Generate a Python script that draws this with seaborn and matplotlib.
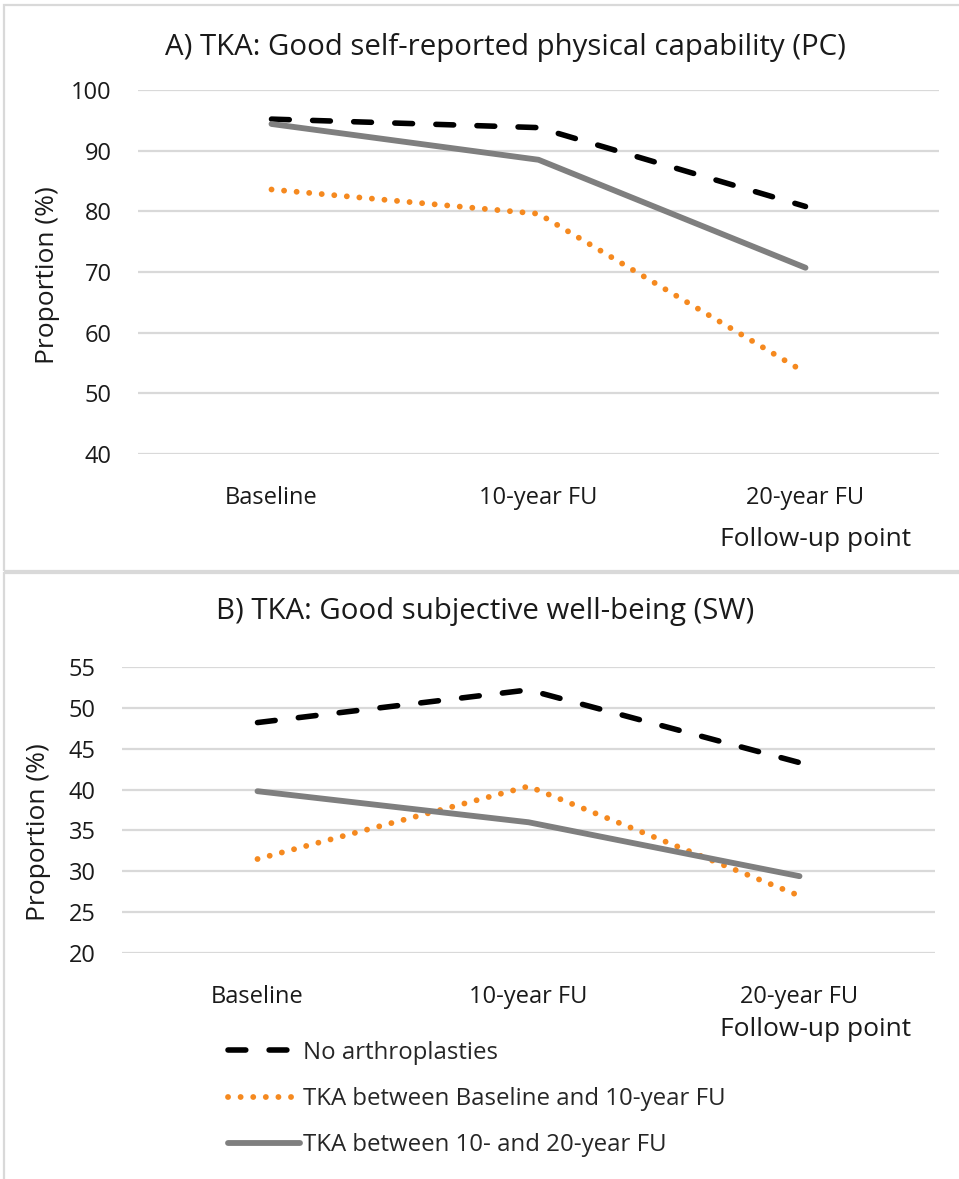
import numpy as np
import pandas as pd
import matplotlib
matplotlib.use("Agg")
import matplotlib.pyplot as plt
from matplotlib.patches import Rectangle
import seaborn as sns

sns.set_style("white")
plt.rcParams['font.family'] = ['Open Sans', 'DejaVu Sans']

timepoints = ["Baseline", "10-year FU", "20-year FU"]
groups = ["No arthroplasties", "TKA between Baseline and 10-year FU", "TKA between 10- and 20-year FU"]

pc_none = [95.2, 93.8, 80.8]
pc_tka_early = [83.6, 79.6, 53.4]
pc_tka_late = [94.4, 88.5, 70.7]

sw_none = [48.2, 52.2, 43.3]
sw_tka_early = [31.5, 40.4, 27.0]
sw_tka_late = [39.8, 36.0, 29.4]

colors = ["black", "#f5891f", "#7f7f7f"]
W, H = 959, 1179


def long_table(vals):
    rows = []
    for g, v in zip(groups, vals):
        for t, y in zip(timepoints, v):
            rows.append({"time": t, "group": g, "value": y})
    return pd.DataFrame(rows)


def draw(ax, df):
    styles = [
        dict(lw=4.0, dashes=(3.2, 4.2)),
        dict(lw=4.2, dashes=(0.01, 2.15)),
        dict(lw=4.2),
    ]
    for g, c, st in zip(groups, colors, styles):
        sub = df[df["group"] == g]
        sns.lineplot(data=sub, x="time", y="value", ax=ax, color=c, label=g,
                     sort=False, lw=st["lw"])
        line = ax.lines[-1]
        if "dashes" in st:
            line.set_dashes(st["dashes"])
            line.set_dash_capstyle("round")
        else:
            line.set_solid_capstyle("round")
    ax.set_xlim(-0.5, 2.5)
    ax.set_xlabel("")
    ax.set_ylabel("")
    ax.grid(axis="y", color="#d9d9d9", lw=1.6)
    ax.set_axisbelow(True)
    for s in ax.spines.values():
        s.set_visible(False)
    ax.tick_params(axis="both", length=0, labelsize=17, colors="#1a1a1a")
    ax.tick_params(axis="x", pad=23)
    ax.tick_params(axis="y", pad=19)


fig = plt.figure(figsize=(W / 100, H / 100), dpi=100)

# panel frames
fig.add_artist(Rectangle((4 / W, 1 - 571 / H), 1.0, 566 / H, transform=fig.transFigure,
                         fill=False, ec="#d9d9d9", lw=1.6))
fig.add_artist(Rectangle((4 / W, -0.01), 1.0, 1 - 573 / H + 0.01, transform=fig.transFigure,
                         fill=False, ec="#d9d9d9", lw=1.6))

axA = fig.add_axes([138 / W, 1 - 454 / H, (939 - 138) / W, (454 - 90) / H])
draw(axA, long_table([pc_none, pc_tka_early, pc_tka_late]))
axA.set_ylim(40, 100)
axA.set_yticks(np.arange(40, 101, 10))
axA.get_legend().remove()

axB = fig.add_axes([122 / W, 1 - 953 / H, (935 - 122) / W, (953 - 667) / H])
draw(axB, long_table([sw_none, sw_tka_early, sw_tka_late]))
axB.set_ylim(20, 55)
axB.set_yticks(np.arange(20, 56, 5))

handles, labels = axB.get_legend_handles_labels()
axB.get_legend().remove()
fig.legend(handles, labels, loc="upper left", bbox_to_anchor=(218 / W, 1 - 1031 / H),
           frameon=False, fontsize=17.3, handlelength=3.0, handletextpad=0.12,
           labelspacing=0.93, borderaxespad=0)

fig.text(505 / W, 1 - 48 / H, "A) TKA: Good self-reported physical capability (PC)",
         ha="center", va="center", fontsize=21.2, color="#1a1a1a")
fig.text(485 / W, 1 - 612 / H, "B) TKA: Good subjective well-being (SW)",
         ha="center", va="center", fontsize=21.2, color="#1a1a1a")
fig.text(911 / W, 1 - 540 / H, "Follow-up point", ha="right", va="center", fontsize=19, color="#1a1a1a")
fig.text(911 / W, 1 - 1029 / H, "Follow-up point", ha="right", va="center", fontsize=19, color="#1a1a1a")
fig.text(48 / W, 1 - 275 / H, "Proportion (%)", rotation=90, ha="center", va="center",
         fontsize=19, color="#1a1a1a")
fig.text(39 / W, 1 - 832 / H, "Proportion (%)", rotation=90, ha="center", va="center",
         fontsize=19, color="#1a1a1a")

fig.savefig("out.png", dpi=100)
